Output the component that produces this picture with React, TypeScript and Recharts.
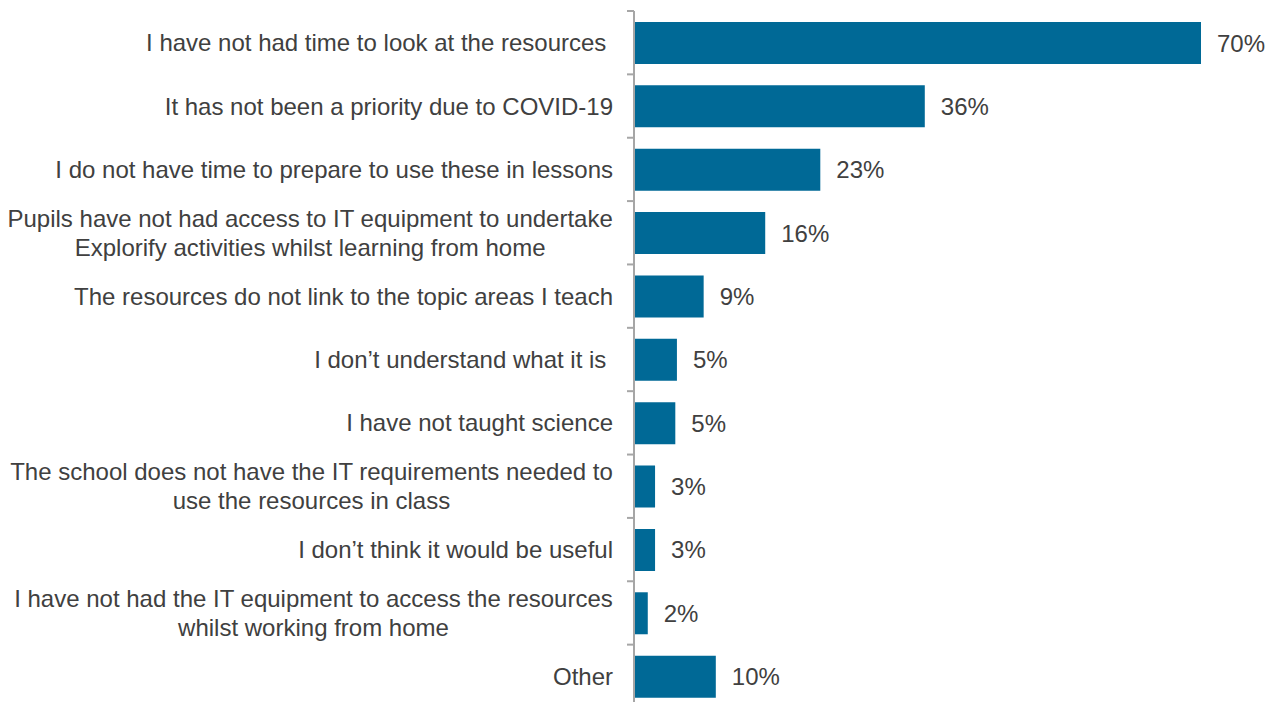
// Reasons for not using Explorify resources - horizontal bar chart.
// Category axis on the left with ticks between bands (custom tick),
// percentage labels to the right of each bar.

import { BarChart, Bar, XAxis, YAxis, LabelList } from "recharts";

const CATEGORIES: string[] = [
  "I have not had time to look at the resources ",
  "It has not been a priority due to COVID-19",
  "I do not have time to prepare to use these in lessons",
  "Pupils have not had access to IT equipment to undertake\nExplorify activities whilst learning from home",
  "The resources do not link to the topic areas I teach",
  "I don\u2019t understand what it is ",
  "I have not taught science",
  "The school does not have the IT requirements needed to\nuse the resources in class",
  "I don\u2019t think it would be useful",
  "I have not had the IT equipment to access the resources\nwhilst working from home",
  "Other",
];

// Share of respondents (%); labels show the rounded value.
const VALUES: number[] = [70, 35.9, 23, 16.2, 8.6, 5.3, 5.1, 2.6, 2.6, 1.7, 10.1];

const X_DOMAIN: [number, number] = [0, 75];

const BAR_COLOR = "#006996";
const TEXT_COLOR = "#404040";
const AXIS_COLOR = "#A6A6A6";
const FONT = "'Liberation Sans', Arial, sans-serif";
const FONT_SIZE = 24;

const WIDTH = 1274;
const HEIGHT = 708;
const MARGIN = { top: 11, right: 32.5, bottom: 0, left: 0 };
const AXIS_WIDTH = 634;
const BAND = (HEIGHT - MARGIN.top - MARGIN.bottom) / CATEGORIES.length;

let ctx: CanvasRenderingContext2D | null = null;
function measure(text: string): number {
  if (!ctx) ctx = document.createElement("canvas").getContext("2d");
  if (!ctx) return text.length * FONT_SIZE * 0.5;
  ctx.font = `${FONT_SIZE}px 'Liberation Sans', Arial, sans-serif`;
  return ctx.measureText(text).width;
}

function CategoryTick(props: any) {
  const { y, payload, index } = props;
  const axisX = MARGIN.left + AXIS_WIDTH;
  const right = axisX - 21;
  const lines = String(payload.value).split("\n");
  const lineH = 28.8;
  const widest = Math.max(...lines.map(measure));
  const multi = lines.length > 1;
  const tx = multi ? right - widest / 2 : right;
  const isLast = index === CATEGORIES.length - 1;
  return (
    <g>
      <line x1={axisX - 7} x2={axisX} y1={y - BAND / 2} y2={y - BAND / 2} stroke={AXIS_COLOR} strokeWidth={2} />
      {isLast && (
        <line x1={axisX - 7} x2={axisX} y1={y + BAND / 2} y2={y + BAND / 2} stroke={AXIS_COLOR} strokeWidth={2} />
      )}
      <text
        x={tx}
        y={y}
        textAnchor={multi ? "middle" : "end"}
        fill={TEXT_COLOR}
        fontFamily={FONT}
        fontSize={FONT_SIZE}
        xmlSpace="preserve"
        style={{ whiteSpace: "pre" }}
      >
        {lines.map((l, i) => (
          <tspan key={i} x={tx} y={y + (i - (lines.length - 1) / 2) * lineH} dy="0.355em">
            {l}
          </tspan>
        ))}
      </text>
    </g>
  );
}

export default function App() {
  const data = CATEGORIES.map((name, i) => ({ name, value: VALUES[i] }));

  return (
    <div style={{ position: "absolute", left: 0, top: 0, width: WIDTH, height: HEIGHT, background: "#fff" }}>
      <BarChart width={WIDTH} height={HEIGHT} data={data} layout="vertical" margin={MARGIN}>
        <XAxis type="number" domain={X_DOMAIN} hide />
        <YAxis
          type="category"
          dataKey="name"
          width={AXIS_WIDTH}
          axisLine={{ stroke: AXIS_COLOR, strokeWidth: 2 }}
          tickLine={false}
          tick={<CategoryTick />}
          interval={0}
        />
        <Bar dataKey="value" fill={BAR_COLOR} barSize={42} isAnimationActive={false}>
          <LabelList
            dataKey="value"
            position="right"
            offset={16}
            formatter={(v: any) => `${Math.round(Number(v))}%`}
            fill={TEXT_COLOR}
            fontFamily={FONT}
            fontSize={FONT_SIZE}
          />
        </Bar>
      </BarChart>
    </div>
  );
}
